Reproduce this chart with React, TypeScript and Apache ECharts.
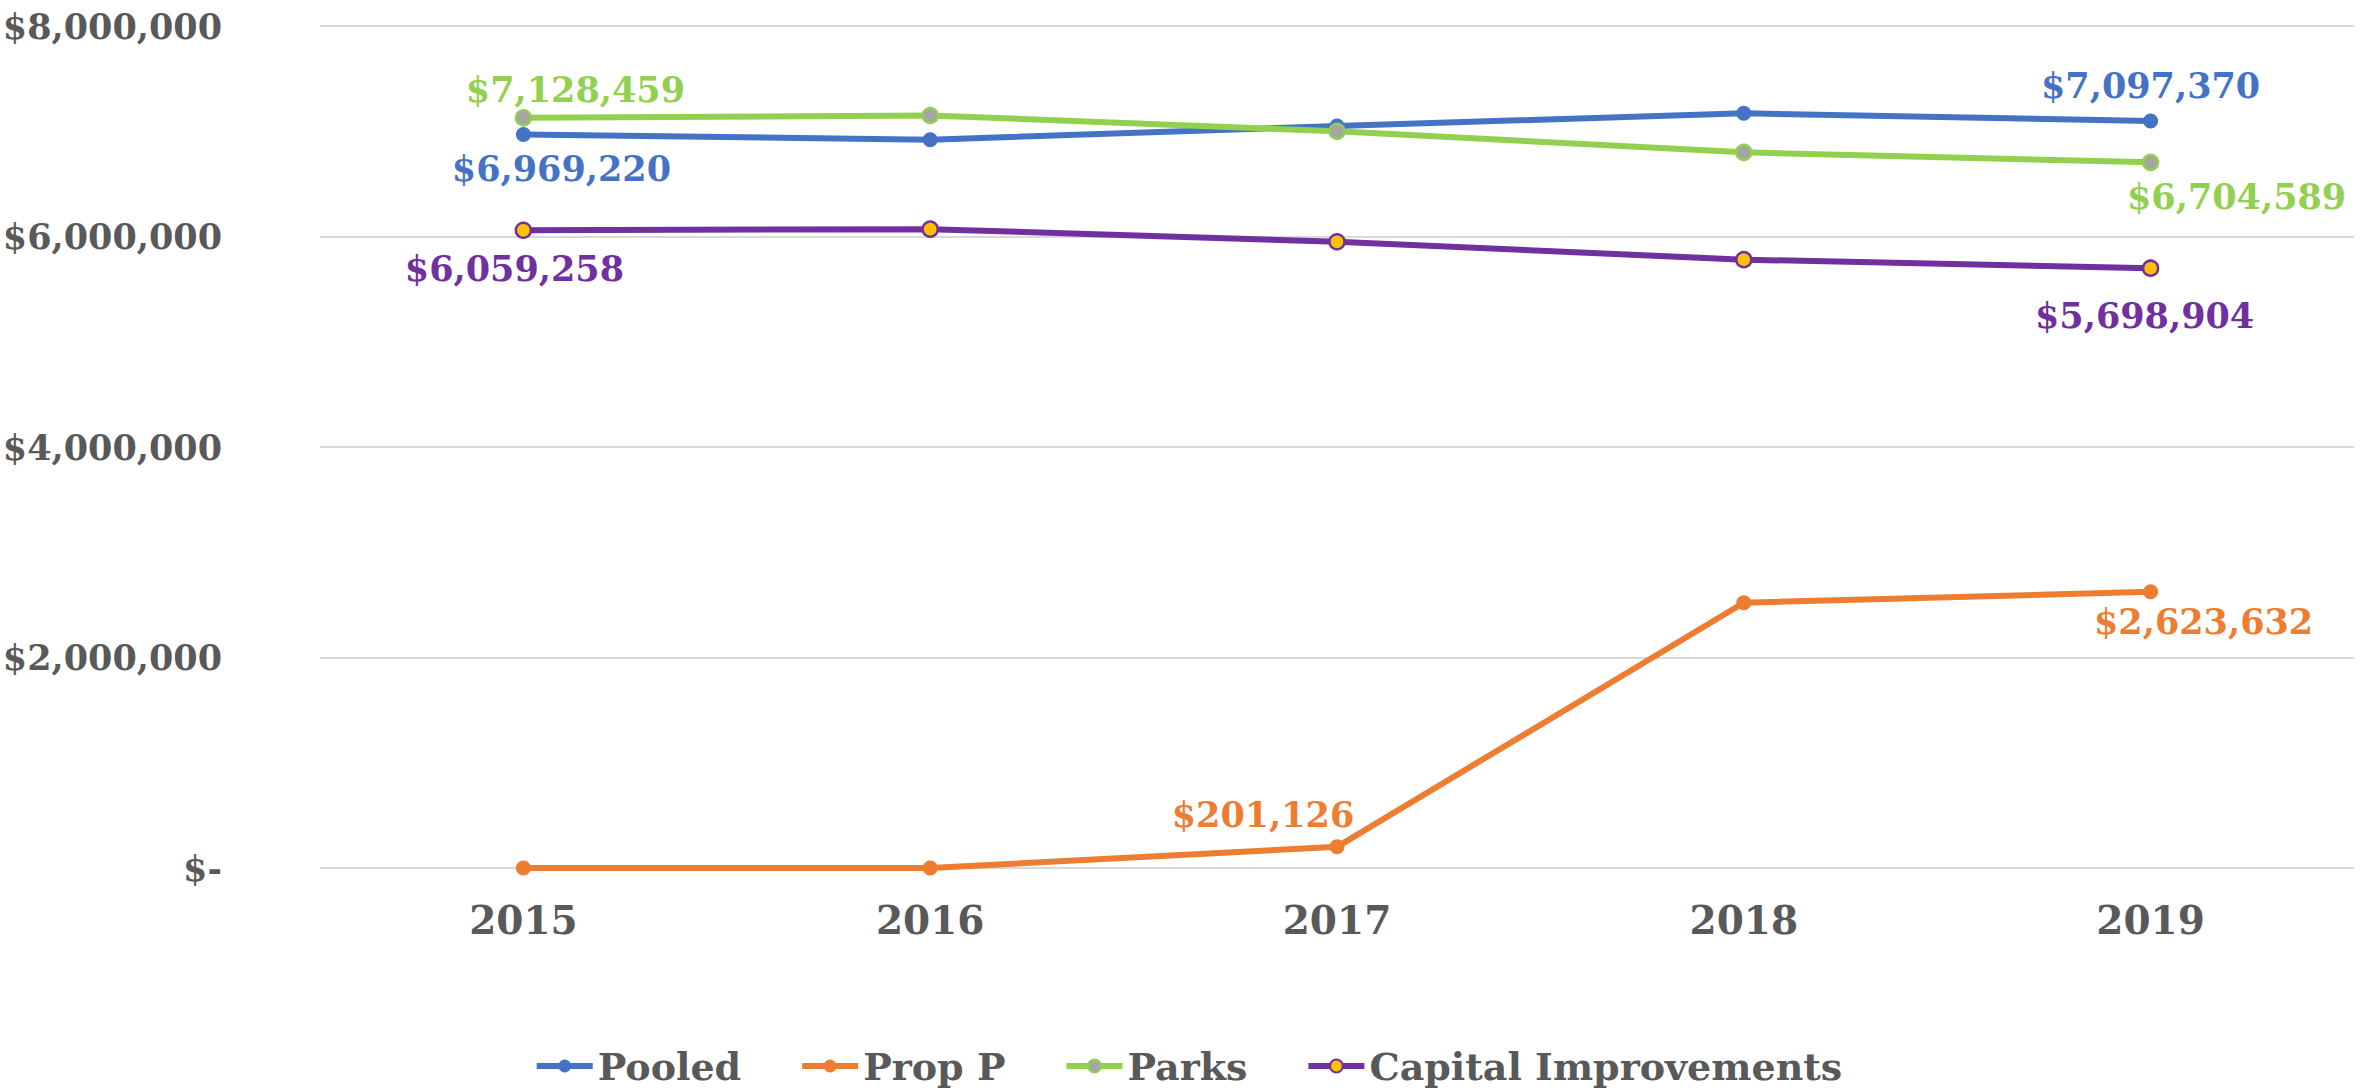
import React, { useEffect, useRef } from "react";
import * as echarts from "echarts";

const years = ["2015", "2016", "2017", "2018", "2019"];
const pooled = [6969220, 6920000, 7050000, 7170000, 7097370];
const propP = [0, 0, 201126, 2520000, 2623632];
const parks = [7128459, 7150000, 7000000, 6800000, 6704589];
const capital = [6059258, 6070000, 5950000, 5780000, 5698904];
const seriesNames = ["Pooled", "Prop P", "Parks", "Capital Improvements"];
const yTicks = [0, 2000000, 4000000, 6000000, 8000000];

// which points carry a value label, and where (label-centre offset from the point, px)
const labelPlacement: Record<string, Record<number, [number, number]>> = {
  Pooled: { 0: [38, 34], 4: [0, -36] },
  "Prop P": { 2: [-74, -32], 4: [53, 30] },
  Parks: { 0: [52, -28], 4: [86, 34] },
  "Capital Improvements": { 0: [-9, 38], 4: [-6, 47] },
};

const FONT = "DejaVu Serif";
const TEXT = "#595959";

const money = (v: number) => (v === 0 ? "$-" : "$" + v.toLocaleString("en-US"));

export default function App() {
  const ref = useRef<HTMLDivElement>(null);
  useEffect(() => {
    if (!ref.current) return;
    const chart = echarts.init(ref.current, undefined, { renderer: "svg" });
    const styles = [
      { color: "#4472C4", fill: "#4472C4", border: "#4472C4" },
      { color: "#ED7D31", fill: "#ED7D31", border: "#ED7D31" },
      { color: "#92D050", fill: "#A5A5A5", border: "#92D050" },
      { color: "#7030A0", fill: "#FFC000", border: "#7030A0" },
    ];
    const values = [pooled, propP, parks, capital];
    const series = seriesNames.map((name, si) => {
      const st = styles[si];
      const place = labelPlacement[name] || {};
      return {
        name,
        type: "line",
        data: values[si].map((v, i) => {
          const p = place[i];
          return p
            ? {
                value: v,
                label: {
                  show: true,
                  position: "inside",
                  offset: p,
                  formatter: () => money(v),
                  color: st.color,
                  fontFamily: FONT,
                  fontWeight: "bold",
                  fontSize: 35,
                },
              }
            : { value: v };
        }),
        symbol: "circle",
        symbolSize: 15,
        showSymbol: true,
        lineStyle: { color: st.color, width: 6 },
        itemStyle: { color: st.fill, borderColor: st.border, borderWidth: si >= 2 ? 2.5 : 0 },
        label: { show: false },
        z: 3 + si,
      };
    });
    chart.setOption({
      animation: false,
      backgroundColor: "#ffffff",
      grid: {
        left: 320,
        right: 22,
        top: 26,
        bottom: 224,
        containLabel: false,
        outerBoundsMode: "none",
      },
      xAxis: {
        type: "category",
        data: years,
        boundaryGap: true,
        axisLine: { show: false },
        axisTick: { show: false },
        axisLabel: {
          color: TEXT,
          fontFamily: FONT,
          fontWeight: "bold",
          fontSize: 39,
          margin: 32,
        },
        splitLine: { show: false },
      },
      yAxis: {
        type: "value",
        min: yTicks[0],
        max: yTicks[yTicks.length - 1],
        interval: yTicks[1] - yTicks[0],
        axisLine: { show: false },
        axisTick: { show: false },
        axisLabel: {
          color: TEXT,
          fontFamily: FONT,
          fontWeight: "bold",
          fontSize: 35,
          margin: 98,
          formatter: (v: number) => money(v),
        },
        splitLine: { show: true, lineStyle: { color: "#D9D9D9", width: 2 } },
      },
      legend: {
        bottom: 2,
        left: "center",
        itemWidth: 56,
        itemHeight: 16,
        itemGap: 58,
        lineStyle: { width: 6 },
        textStyle: { color: TEXT, fontFamily: FONT, fontWeight: "bold", fontSize: 38 },
        data: seriesNames,
      },
      series,
    });
    return () => chart.dispose();
  }, []);
  return (
    <div
      ref={ref}
      style={{ position: "fixed", left: 0, top: 0, width: 2376, height: 1092 }}
    />
  );
}
